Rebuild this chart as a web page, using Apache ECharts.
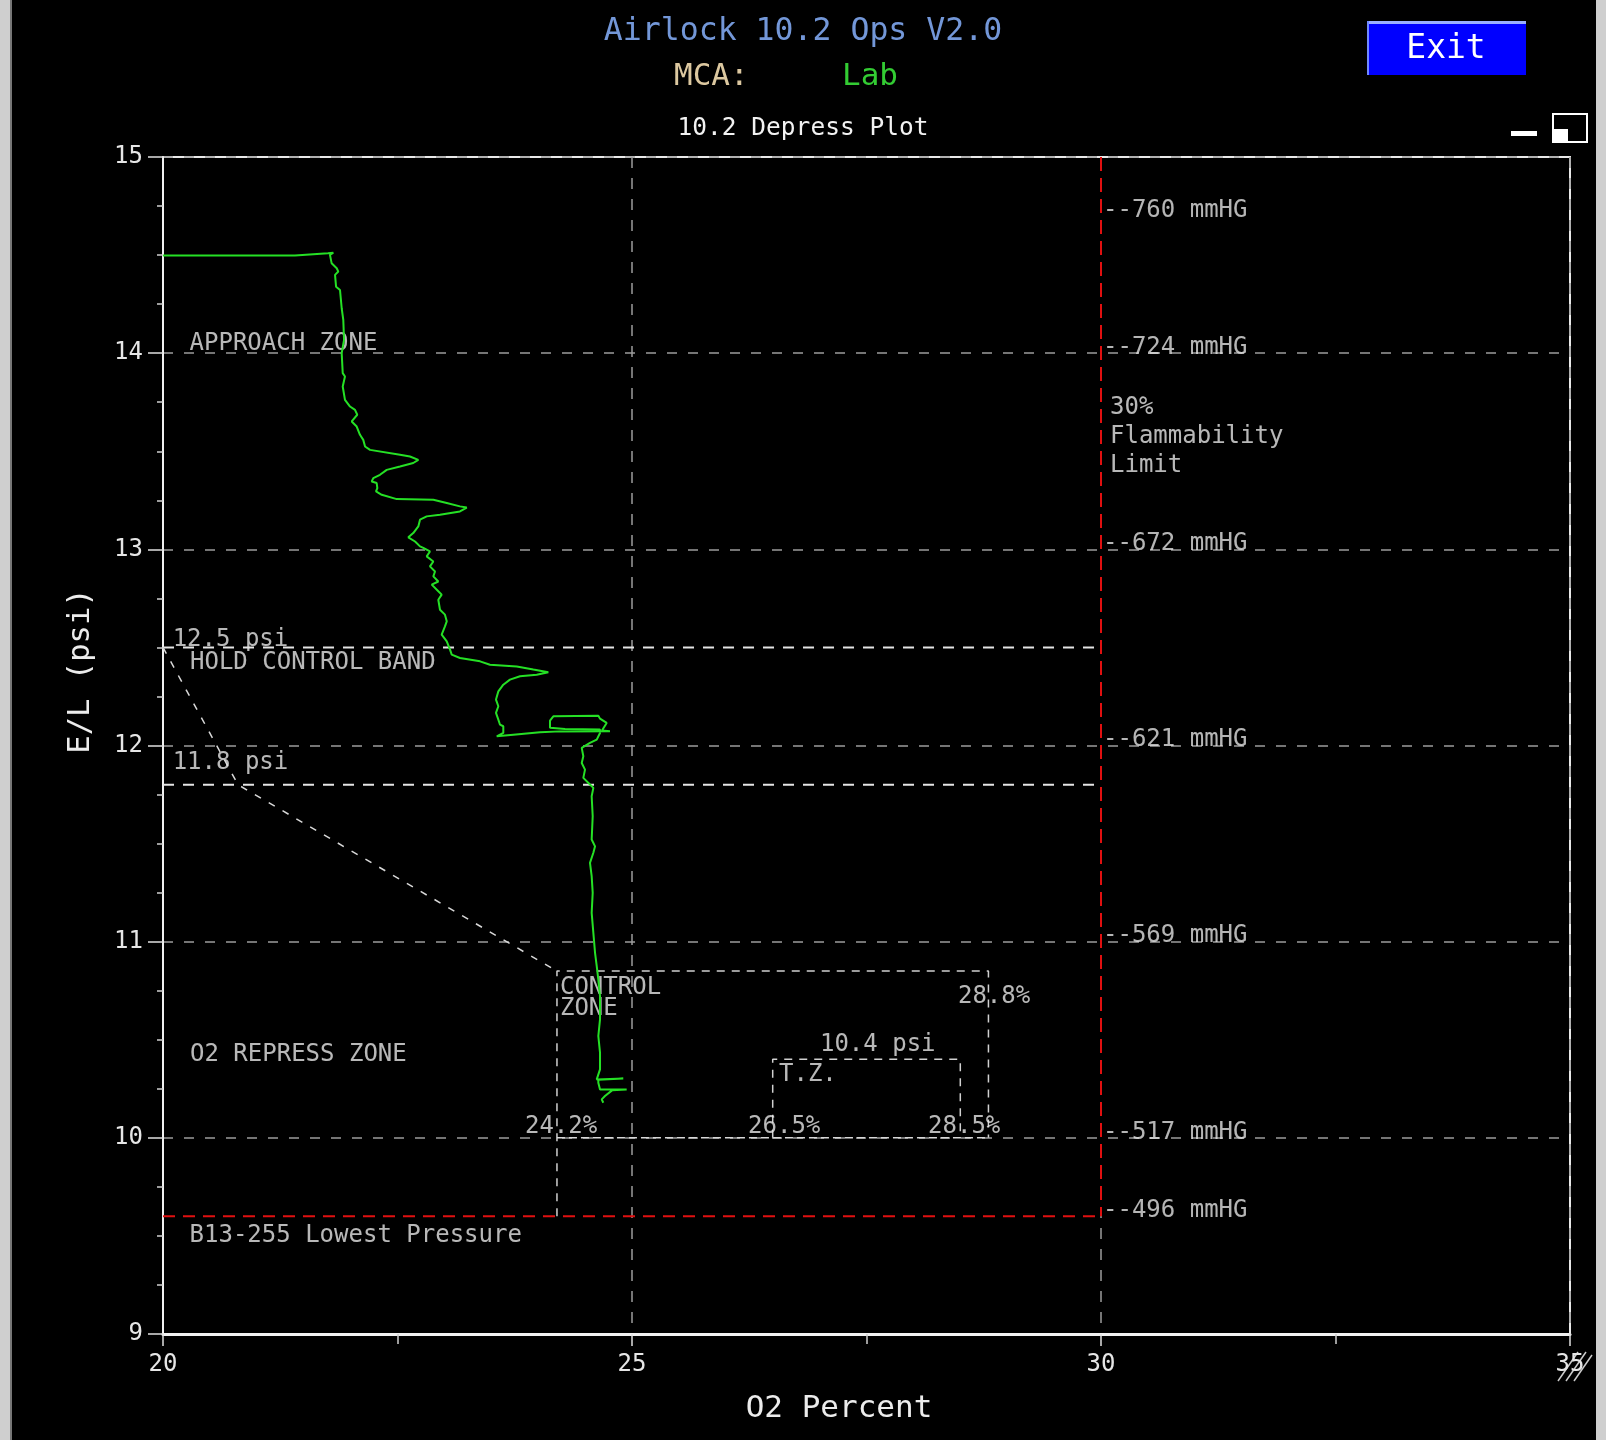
<!DOCTYPE html>
<html>
<head>
<meta charset="utf-8">
<script src="https://cdn.jsdelivr.net/npm/echarts@6/dist/echarts.min.js"></script>
<style>
html,body{margin:0;padding:0;background:#000;}
#chart{width:1606px;height:1440px;}
</style>
</head>
<body>
<div id="chart"></div>
<script>
const FONT = '"DejaVu Sans Mono", monospace';

// ---- Depress trace (O2 % vs E/L psi) ----
const traceO2 = [20.000,21.407,21.418,21.759,21.816,21.780,21.798,21.852,21.869,21.834,
  21.845,21.887,21.905,21.922,21.930,21.905,21.916,21.940,21.916,21.940,
  21.994,22.047,22.071,22.012,22.065,22.100,22.135,22.154,22.207,22.527,
  22.633,22.722,22.668,22.527,22.385,22.313,22.242,22.225,22.278,22.285,
  22.271,22.332,22.492,22.882,23.025,23.166,23.238,23.166,22.953,22.811,
  22.740,22.722,22.668,22.615,22.687,22.740,22.775,22.846,22.811,22.882,
  22.846,22.900,22.882,22.935,22.865,22.935,22.971,22.935,22.953,23.006,
  23.025,23.006,22.971,23.025,23.060,23.078,23.166,23.380,23.486,23.771,
  23.948,24.108,23.984,23.806,23.699,23.628,23.575,23.550,23.575,23.550,
  23.575,23.593,23.628,23.628,23.558,23.735,24.019,24.232,24.765,24.680,
  24.730,24.659,24.641,24.161,24.126,24.126,24.286,24.659,24.659,24.624,
  24.552,24.464,24.481,24.464,24.499,24.481,24.552,24.588,24.570,24.581,
  24.570,24.606,24.588,24.552,24.570,24.581,24.570,24.588,24.606,24.624,
  24.641,24.659,24.659,24.641,24.659,24.659,24.624,24.907,24.641,24.641,
  24.659,24.943,24.787,24.712,24.677,24.694];
const tracePsi = [14.498,14.498,14.504,14.509,14.512,14.501,14.458,14.433,14.416,14.399,
  14.339,14.322,14.229,14.170,14.068,14.000,13.898,13.881,13.830,13.762,
  13.728,13.711,13.686,13.652,13.626,13.584,13.558,13.524,13.507,13.482,
  13.473,13.456,13.440,13.422,13.405,13.380,13.363,13.346,13.338,13.312,
  13.295,13.278,13.256,13.253,13.236,13.219,13.213,13.193,13.176,13.168,
  13.151,13.117,13.083,13.061,13.040,13.015,13.007,12.989,12.964,12.938,
  12.913,12.887,12.862,12.836,12.820,12.786,12.769,12.743,12.692,12.667,
  12.633,12.607,12.565,12.531,12.489,12.463,12.446,12.429,12.412,12.403,
  12.387,12.373,12.361,12.353,12.336,12.310,12.276,12.234,12.200,12.166,
  12.132,12.106,12.098,12.064,12.047,12.055,12.067,12.072,12.073,12.076,
  12.115,12.137,12.152,12.149,12.127,12.090,12.084,12.081,12.064,12.030,
  12.013,11.988,11.945,11.911,11.877,11.835,11.801,11.784,11.741,11.639,
  11.521,11.486,11.453,11.402,11.334,11.249,11.147,11.045,10.943,10.875,
  10.807,10.722,10.604,10.519,10.434,10.349,10.298,10.302,10.296,10.281,
  10.247,10.247,10.242,10.213,10.196,10.179];

// ---- Reference limits ----
const holdBandPsi = [12.5, 11.8];
const holdBandO2 = [20, 30];
const flammabilityO2 = 30;
const lowestPsi = 9.6;
const approachO2 = [20, 20.8, 24.2];
const approachPsi = [12.5, 11.8, 10.85];
const controlZoneO2 = [24.2, 24.2, 28.8, 28.8];
const controlZonePsi = [9.6, 10.85, 10.85, 10.0];
const controlBottomO2 = [24.2, 28.8];
const controlBottomPsi = [10.0, 10.0];
const tzO2 = [26.5, 26.5, 28.5, 28.5];
const tzPsi = [10.0, 10.4, 10.4, 10.0];

// ---- mmHg labels on the 30% line ----
const mmHgText = ['760', '724', '672', '621', '569', '517', '496'];
const mmHgPsi = [14.7, 14, 13, 12, 11, 10, 9.6];

// ---- Zone annotations ----
const zoneText = ['APPROACH ZONE', '12.5 psi', 'HOLD CONTROL BAND', '11.8 psi', 'O2 REPRESS ZONE',
  'B13-255 Lowest Pressure', 'CONTROL\nZONE', '28.8%', '10.4 psi', 'T.Z.', '24.2%', '26.5%', '28.5%',
  '30%\nFlammability\nLimit'];
const zoneO2 = [20.283, 20.103, 20.288, 20.103, 20.288, 20.283, 24.232, 28.475, 27.004, 26.567,
  23.859, 26.237, 28.156, 30.096];
const zonePsi = [14.063, 12.556, 12.438, 11.928, 10.441, 9.514, 10.727, 10.736, 10.489, 10.339,
  10.071, 10.071, 10.071, 13.589];

const xMin = 20, xMax = 35, xStep = 5;
const yMin = 9, yMax = 15, yStep = 1;

const zip = (a, b) => a.map((v, i) => [v, b[i]]);
const lineHeights = {'CONTROL\nZONE': 20.5, '30%\nFlammability\nLimit': 29};

function dashed(name, data, color, width, dash) {
  return {
    name, type: 'line', data, symbol: 'none', silent: true, z: 3,
    lineStyle: {color, width, type: dash}, emphasis: {disabled: true}
  };
}

const chart = echarts.init(document.getElementById('chart'), null, {renderer: 'canvas'});
const option = {
  backgroundColor: '#000',
  animation: false,
  title: [
    {text: 'Airlock 10.2 Ops V2.0', left: 'center', top: 15.5, padding: 0,
     textStyle: {fontFamily: FONT, fontSize: 31.5, fontWeight: 'normal', color: '#7397d8'}},
    {text: '{a|MCA:}     {b|Lab}', left: 674, top: 61.5, padding: 0,
     textStyle: {fontFamily: FONT, fontSize: 31, fontWeight: 'normal',
       rich: {a: {fontFamily: FONT, fontSize: 31, color: '#dcc8a0', lineHeight: 31},
              b: {fontFamily: FONT, fontSize: 31, color: '#33cc33', lineHeight: 31}}}},
    {text: '10.2 Depress Plot', left: 'center', top: 116, padding: 0,
     textStyle: {fontFamily: FONT, fontSize: 24.5, fontWeight: 'normal', color: '#f2f2f2'}}
  ],
  grid: {left: 163, top: 157, width: 1407, height: 1177, show: true,
         borderColor: '#e8e8e8', borderWidth: 2, backgroundColor: 'transparent'},
  xAxis: {
    type: 'value', min: xMin, max: xMax, interval: xStep,
    name: 'O2 Percent', nameLocation: 'middle', nameGap: 59,
    nameTextStyle: {fontFamily: FONT, fontSize: 31, color: '#ececec', padding: [0, 55, 0, 0]},
    axisLine: {show: true, lineStyle: {color: '#f0f0f0', width: 3}},
    axisTick: {show: true, length: 12, lineStyle: {color: '#e0e0e0', width: 1.5}},
    minorTick: {show: true, splitNumber: 2, length: 10, lineStyle: {color: '#d0d0d0', width: 1.5}},
    axisLabel: {fontFamily: FONT, fontSize: 24, color: '#e6e6e6', margin: 19},
    splitLine: {show: true, lineStyle: {color: '#9c9c9c', width: 1.5, type: [11, 10]}}
  },
  yAxis: {
    type: 'value', min: yMin, max: yMax, interval: yStep,
    name: 'E/L (psi)', nameLocation: 'middle', nameGap: 66,
    nameTextStyle: {fontFamily: FONT, fontSize: 30.5, color: '#ececec', padding: [0, 0, 0, 149]},
    axisLine: {show: true, lineStyle: {color: '#f0f0f0', width: 2}},
    axisTick: {show: true, length: 15, lineStyle: {color: '#e0e0e0', width: 1.5}},
    minorTick: {show: true, splitNumber: 4, length: 6, lineStyle: {color: '#d0d0d0', width: 1.5}},
    axisLabel: {fontFamily: FONT, fontSize: 24, color: '#e6e6e6', margin: 20},
    splitLine: {show: true, lineStyle: {color: '#9c9c9c', width: 1.5, type: [10, 11]}}
  },
  series: [
    dashed('12.5 psi', zip(holdBandO2, [holdBandPsi[0], holdBandPsi[0]]), '#e4e4e4', 2, [11, 9]),
    dashed('11.8 psi', zip(holdBandO2, [holdBandPsi[1], holdBandPsi[1]]), '#e4e4e4', 2, [11, 9]),
    dashed('Lowest Pressure', zip([xMin, flammabilityO2], [lowestPsi, lowestPsi]), '#e01010', 2, [12, 8]),
    dashed('30% Flammability', zip([flammabilityO2, flammabilityO2], [yMax, lowestPsi]), '#e01010', 2, [14, 7]),
    dashed('Approach boundary', zip(approachO2, approachPsi), '#d8d8d8', 1.5, [7, 9]),
    dashed('Control zone', zip(controlZoneO2, controlZonePsi), '#d0d0d0', 1.5, [8, 7]),
    dashed('Control zone bottom', zip(controlBottomO2, controlBottomPsi), '#d8d8d8', 1.5, [8, 4]),
    dashed('T.Z.', zip(tzO2, tzPsi), '#d0d0d0', 1.5, [8, 7]),
    {
      name: 'mmHg', type: 'scatter', symbolSize: 0, silent: true, z: 4,
      data: mmHgText.map((t, i) => ({name: '--' + t + ' mmHG', value: [flammabilityO2, mmHgPsi[i]]})),
      label: {show: true, position: 'right', distance: 2, offset: [0, -5.5], formatter: '{b}',
              fontFamily: FONT, fontSize: 24, color: '#e2e2e2'},
      emphasis: {disabled: true}
    },
    {
      name: 'Zones', type: 'scatter', symbolSize: 0, silent: true, z: 4,
      data: zoneText.map((t, i) => ({
        name: t, value: [zoneO2[i], zonePsi[i]],
        label: lineHeights[t] ? {lineHeight: lineHeights[t]} : {}
      })),
      label: {show: true, position: 'right', distance: 0, offset: [0, 3], formatter: '{b}',
              fontFamily: FONT, fontSize: 24, color: '#e6e6e6', lineHeight: 24},
      emphasis: {disabled: true}
    },
    {
      name: 'Depress', type: 'line', data: zip(traceO2, tracePsi), symbol: 'none', z: 10,
      silent: true, lineStyle: {color: '#25e025', width: 2}, emphasis: {disabled: true}
    }
  ],
  graphic: [
    {type: 'rect', left: 0, top: 0, shape: {x: 0, y: 0, width: 10, height: 1440}, style: {fill: '#cfcfcf'}, silent: true},
    {type: 'rect', left: 10, top: 0, shape: {x: 0, y: 0, width: 2, height: 1440}, style: {fill: '#777'}, silent: true},
    {type: 'rect', left: 1596, top: 0, shape: {x: 0, y: 0, width: 10, height: 1440}, style: {fill: '#cfcfcf'}, silent: true},
    {type: 'rect', shape: {x: 1367, y: 21, width: 159, height: 54}, style: {fill: '#0000ff'}, silent: true},
    {type: 'line', shape: {x1: 1367, y1: 22.5, x2: 1526, y2: 22.5}, style: {stroke: '#9aaeff', lineWidth: 3}, silent: true},
    {type: 'line', shape: {x1: 1368, y1: 21, x2: 1368, y2: 75}, style: {stroke: '#7088ff', lineWidth: 2}, silent: true},
    {type: 'text', x: 1446, y: 49, style: {text: 'Exit', align: 'center', verticalAlign: 'middle',
      fontFamily: FONT, fontSize: 33, fill: '#ffffff'}, silent: true},
    {type: 'rect', shape: {x: 1511, y: 131, width: 26, height: 5}, style: {fill: '#ffffff'}, silent: true},
    {type: 'rect', shape: {x: 1553, y: 114, width: 34, height: 28}, style: {fill: 'none', stroke: '#ffffff', lineWidth: 2}, silent: true},
    {type: 'rect', shape: {x: 1553, y: 129, width: 15, height: 13}, style: {fill: '#ffffff'}, silent: true},
    {type: 'line', shape: {x1: 1558, y1: 1381, x2: 1578, y2: 1352}, style: {stroke: '#cccccc', lineWidth: 1.5}, silent: true},
    {type: 'line', shape: {x1: 1566, y1: 1381, x2: 1586, y2: 1352}, style: {stroke: '#cccccc', lineWidth: 1.5}, silent: true},
    {type: 'line', shape: {x1: 1574, y1: 1381, x2: 1592, y2: 1355}, style: {stroke: '#cccccc', lineWidth: 1.5}, silent: true}
  ]
};
chart.setOption(option);
</script>
</body>
</html>
